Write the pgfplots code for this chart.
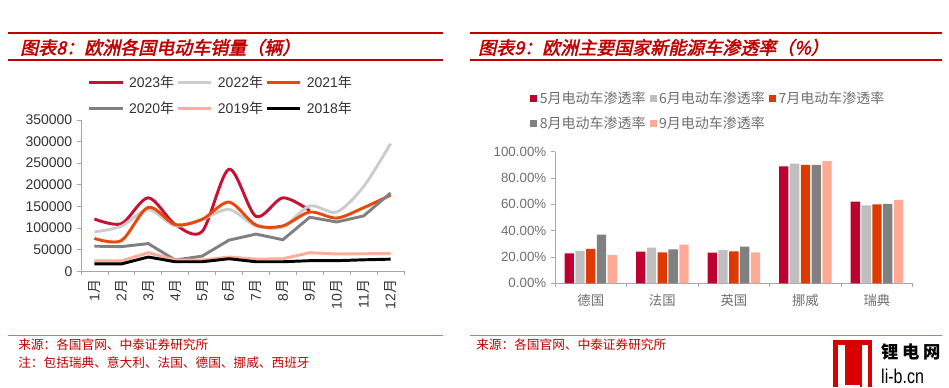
\documentclass[border=0pt]{standalone}
\usepackage{pgfplots}
\pgfplotsset{compat=1.18}
\usepackage{fontspec}
\setmainfont{Liberation Sans}
\newfontfamily\cjk{Noto Sans CJK SC}
\newfontfamily\cjkt[FakeSlant=0.22,FakeBold=2.4]{Noto Sans CJK SC}
\definecolor{titlered}{RGB}{192,0,0}
\definecolor{footred}{RGB}{222,110,110}
\definecolor{axisgray}{RGB}{166,166,166}
\definecolor{txtdark}{RGB}{50,50,50}
\definecolor{txtgray}{RGB}{110,110,110}
\definecolor{c23}{RGB}{200,16,52}
\definecolor{c22}{RGB}{204,204,204}
\definecolor{c21}{RGB}{232,72,12}
\definecolor{c20}{RGB}{128,128,128}
\definecolor{c19}{RGB}{255,172,152}
\definecolor{c18}{RGB}{0,0,0}
\definecolor{b5}{RGB}{190,0,48}
\definecolor{b6}{RGB}{191,191,191}
\definecolor{b7}{RGB}{222,58,0}
\definecolor{b8}{RGB}{128,128,128}
\definecolor{b9}{RGB}{255,170,150}
\pgfplotsset{sqlegend/.style={legend image code/.code={\fill[##1] (0pt,-2.6pt) rectangle (5.2pt,2.6pt);}}}
\begin{document}
\begin{tikzpicture}
\begin{scope}[x=0.75pt,y=0.75pt]
\path[use as bounding box] (0,0) rectangle (949,387);
% ---- headers
\draw[titlered, line width=2.2pt] (8,354) -- (443,354);
\draw[titlered, line width=0.8pt] (8,327) -- (443,327);
\node[anchor=west, inner sep=0pt, text=titlered, font=\cjkt\fontsize{13.5}{14}\selectfont] at (20,339.5) {图表8：欧洲各国电动车销量（辆）};
\draw[titlered, line width=2.2pt] (470,354) -- (942,354);
\draw[titlered, line width=0.8pt] (470,327) -- (942,327);
\node[anchor=west, inner sep=0pt, text=titlered, font=\cjkt\fontsize{13.5}{14}\selectfont] at (478,339.5) {图表9：欧洲主要国家新能源车渗透率（\%）};
% ---- footers
\draw[footred, line width=0.9pt] (8,51.3) -- (443,51.3);
\draw[footred, line width=0.9pt] (470,51.3) -- (942,51.3);
\node[anchor=west, inner sep=0pt, text=titlered, font=\cjk\fontsize{9.5}{10}\selectfont] at (18,42) {来源：各国官网、中泰证券研究所};
\node[anchor=west, inner sep=0pt, text=titlered, font=\cjk\fontsize{9.5}{10}\selectfont] at (18,24) {注：包括瑞典、意大利、法国、德国、挪威、西班牙};
\node[anchor=west, inner sep=0pt, text=titlered, font=\cjk\fontsize{9.5}{10}\selectfont] at (476,42) {来源：各国官网、中泰证券研究所};
% ---- logo
\fill[red!85!black] (833,0) rectangle (872,47);
\fill[white] (838,0) rectangle (845,42);
\fill[white] (838,0) rectangle (860,2);
\fill[white] (862,0) rectangle (868,42);
\node[anchor=west, inner sep=0pt, font=\cjk\bfseries\fontsize{13}{14}\selectfont] at (881,35) {锂\hspace{3pt}电\hspace{3pt}网};
\node[anchor=west, inner sep=0pt, font=\fontsize{15}{16}\selectfont, xscale=0.8] at (881,11) {li-b.cn};
\end{scope}
% ---- left chart
\begin{axis}[
  at={(60.75pt,86.8pt)}, anchor=south west, scale only axis,
  width=242.25pt, height=113.5pt,
  xmin=0.5, xmax=12.5, ymin=0, ymax=350000,
  axis lines*=left, axis line style={draw=axisgray,-},
  tick align=outside, tick style={draw=axisgray, line width=0.6pt},
  major tick length=3pt, minor tick length=3pt,
  ytick={0,50000,...,350000}, scaled y ticks=false,
  /pgf/number format/assume math mode=true,
  yticklabel style={/pgf/number format/fixed, /pgf/number format/1000 sep={}, text=txtdark, font=\fontsize{10.5}{12}\selectfont},
  xtick={1,...,12},
  xticklabels={{1\cjk 月},{2\cjk 月},{3\cjk 月},{4\cjk 月},{5\cjk 月},{6\cjk 月},{7\cjk 月},{8\cjk 月},{9\cjk 月},{10\cjk 月},{11\cjk 月},{12\cjk 月}},
  major x tick style={draw=none},
  minor xtick={0.5,1.5,...,12.5},
  xticklabel style={rotate=90, anchor=east, text=txtdark, font=\fontsize{10.5}{12}\selectfont},
  legend columns=3,
  legend cell align=left,
  legend style={draw=none, fill=none, inner sep=0pt, at={(0.02,1.31)}, anchor=north west,
    font=\fontsize{10.5}{12}\selectfont, text=txtdark, row sep=5.5pt,
    nodes={inner sep=1.8pt},
    /tikz/every odd column/.append style={column sep=2pt},
    /tikz/every even column/.append style={column sep=0pt}},
  legend image code/.code={\draw[#1] (0pt,0pt) -- (25pt,0pt);},
  every axis plot/.append style={line width=2.2pt, no markers},
]
\addplot[c23, smooth] coordinates {(1,121000) (2,110000) (3,170000) (4,108000) (5,92000) (6,236000) (7,127000) (8,170000) (9,140000)};
\addplot[c22, smooth] coordinates {(1,91000) (2,104000) (3,143000) (4,105000) (5,120000) (6,143000) (7,105000) (8,103000) (9,151000) (10,137000) (11,196000) (12,295000)};
\addplot[c21, smooth] coordinates {(1,76000) (2,71000) (3,148000) (4,108000) (5,120000) (6,160000) (7,107000) (8,105000) (9,137000) (10,123000) (11,147000) (12,176000)};
\addplot[c20] coordinates {(1,58000) (2,57000) (3,64000) (4,26000) (5,35000) (6,72000) (7,86000) (8,73000) (9,125000) (10,114000) (11,128000) (12,181000)};
\addplot[c19] coordinates {(1,24000) (2,24000) (3,43000) (4,26000) (5,26000) (6,33000) (7,28000) (8,29000) (9,43000) (10,40000) (11,40500) (12,41000)};
\addplot[c18] coordinates {(1,17000) (2,17000) (3,33000) (4,22000) (5,22000) (6,29000) (7,22000) (8,22000) (9,24500) (10,24500) (11,26500) (12,28000)};
\legend{{2023\cjk 年},{2022\cjk 年},{2021\cjk 年},{2020\cjk 年},{2019\cjk 年},{2018\cjk 年}}
\end{axis}
% ---- right chart
\begin{axis}[
  at={(416.25pt,77.8pt)}, anchor=south west, scale only axis,
  width=268.3pt, height=98.7pt,
  ybar=1.1pt, bar width=7pt,
  xmin=0.5, xmax=5.5, ymin=0, ymax=100,
  axis lines*=left, axis line style={draw=axisgray,-},
  tick align=outside, tick style={draw=axisgray, line width=0.6pt},
  major tick length=3pt, minor tick length=3pt,
  ytick={0,20,...,100},
  /pgf/number format/assume math mode=true,
  yticklabel={\pgfmathprintnumber[fixed,fixed zerofill,precision=2]{\tick}\%},
  yticklabel style={text=txtgray, font=\fontsize{10}{12}\selectfont},
  xtick={1,...,5},
  xticklabels={德国,法国,英国,挪威,瑞典},
  major x tick style={draw=none},
  minor xtick={0.5,1.5,...,5.5},
  xticklabel style={text=txtgray, font=\cjk\fontsize{10}{12}\selectfont, yshift=-2pt},
  legend columns=3,
  legend cell align=left,
  legend style={draw=none, fill=none, inner sep=0pt, at={(-0.07,1.48)}, anchor=north west,
    font=\cjk\fontsize{10.5}{12}\selectfont, text=txtgray, row sep=4.5pt,
    /tikz/every even column/.append style={column sep=1pt}},
]
\addplot[fill=b5, draw=none, sqlegend] coordinates {(1,22.8) (2,24.1) (3,23.3) (4,88.9) (5,62.0)};
\addplot[fill=b6, draw=none, sqlegend] coordinates {(1,24.6) (2,27.1) (3,25.1) (4,90.9) (5,59.2)};
\addplot[fill=b7, draw=none, sqlegend] coordinates {(1,26.1) (2,23.5) (3,24.3) (4,89.9) (5,60.0)};
\addplot[fill=b8, draw=none, sqlegend] coordinates {(1,37.0) (2,25.8) (3,27.8) (4,89.9) (5,60.3)};
\addplot[fill=b9, draw=none, sqlegend] coordinates {(1,21.3) (2,29.4) (3,23.5) (4,92.9) (5,63.3)};
\legend{5月电动车渗透率,6月电动车渗透率,7月电动车渗透率,8月电动车渗透率,9月电动车渗透率}
\end{axis}
\end{tikzpicture}
\end{document}
